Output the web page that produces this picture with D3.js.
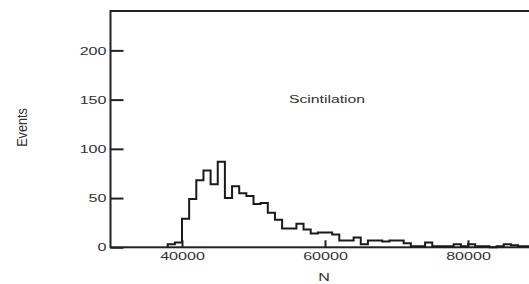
<!DOCTYPE html>
<html>
<head>
<meta charset="utf-8">
<script src="https://cdn.jsdelivr.net/npm/d3@7"></script>
<style>
	body { margin: 0; background: #fff; }
	svg { display: block; }
	text { font-family: "Liberation Sans", Arial, Helvetica, sans-serif; fill: #333; }
</style>
</head>
<body>
<div id="chart"></div>
<script>
// histogram bins (lower edge, width 1000) and counts
var binStarts = [38000, 39000, 40000, 41000, 42000, 43000, 44000, 45000, 46000, 47000,
	48000, 49000, 50000, 51000, 52000, 53000, 54000, 55000, 56000, 57000,
	58000, 59000, 60000, 61000, 62000, 63000, 64000, 65000, 66000, 67000,
	68000, 69000, 70000, 71000, 72000, 73000, 74000, 75000, 76000, 77000,
	78000, 79000, 80000, 81000, 82000, 83000, 84000, 85000, 86000, 87000,
	88000, 89000];
var counts = [3, 5, 29, 49, 68, 78, 64, 87, 50, 62,
	55, 52, 44, 45, 35, 28, 19, 19, 24, 18,
	14, 15, 15, 13, 7, 7, 10, 3, 7, 7,
	6, 7, 7, 4, 1, 1, 5, 1, 1, 1,
	3, 1, 3, 1, 1, 0, 1, 3, 2, 1,
	1, 1];
var binWidth = 1000;
var xTicks = [40000, 60000, 80000];
var yTicks = [0, 50, 100, 150, 200];

var width = 529, height = 284;
var stretch = 1.4; // the original text is wide

var svg = d3.select("#chart").append("svg")
	.attr("width", width)
	.attr("height", height);

var x = d3.scaleLinear().domain([30000, 90000]).range([110.5, 539.5]);
var y = d3.scaleLinear().domain([0, 240]).range([247.3, 11]);

// frame (right side falls outside the picture)
svg.append("rect")
	.attr("x", x(30000))
	.attr("y", y(240))
	.attr("width", x(90000) - x(30000))
	.attr("height", y(0) - y(240))
	.attr("fill", "none")
	.attr("stroke", "#222")
	.attr("stroke-width", 2);

// histogram as a step outline
var path = d3.path();
path.moveTo(x(binStarts[0]), y(0));
binStarts.forEach(function(b, i){
	path.lineTo(x(b), y(counts[i]));
	path.lineTo(x(b + binWidth), y(counts[i]));
});
path.lineTo(x(binStarts[binStarts.length-1] + binWidth), y(0));

svg.append("path")
	.attr("d", path.toString())
	.attr("fill", "none")
	.attr("stroke", "#1a1a1a")
	.attr("stroke-width", 2)
	.attr("stroke-linejoin", "miter");

// axes, ticks pointing inward
var yAxis = svg.append("g")
	.attr("transform", "translate(" + x(30000) + ",0)")
	.call(d3.axisLeft(y).tickValues(yTicks).tickSizeInner(-13).tickSizeOuter(0).tickPadding(4));
var xAxis = svg.append("g")
	.attr("transform", "translate(0," + y(0) + ")")
	.call(d3.axisBottom(x).tickValues(xTicks).tickFormat(d3.format("d")).tickSizeInner(-7).tickSizeOuter(0).tickPadding(4.5));

[yAxis, xAxis].forEach(function(g){
	g.select(".domain").remove();
	g.selectAll(".tick line").attr("stroke", "#222").attr("stroke-width", 2);
	g.selectAll(".tick text")
		.attr("font-size", "11.5px")
		.attr("fill", "#333")
		.attr("font-family", null);
});
yAxis.selectAll(".tick text")
	.attr("x", -4 / stretch)
	.attr("transform", "scale(" + stretch + ",1)");
xAxis.selectAll(".tick text")
	.attr("transform", "scale(" + stretch + ",1)");

// labels
svg.append("text")
	.attr("transform", "translate(327,103) scale(1.37,1)")
	.attr("text-anchor", "middle")
	.attr("font-size", "11.5px")
	.text("Scintilation");

svg.append("text")
	.attr("transform", "translate(324,281) scale(" + stretch + ",1)")
	.attr("text-anchor", "middle")
	.attr("font-size", "11.5px")
	.text("N");

svg.append("text")
	.attr("transform", "translate(27,127.5) rotate(-90) scale(1.1,1.2)")
	.attr("text-anchor", "middle")
	.attr("font-size", "11.5px")
	.text("Events");
</script>
</body>
</html>
